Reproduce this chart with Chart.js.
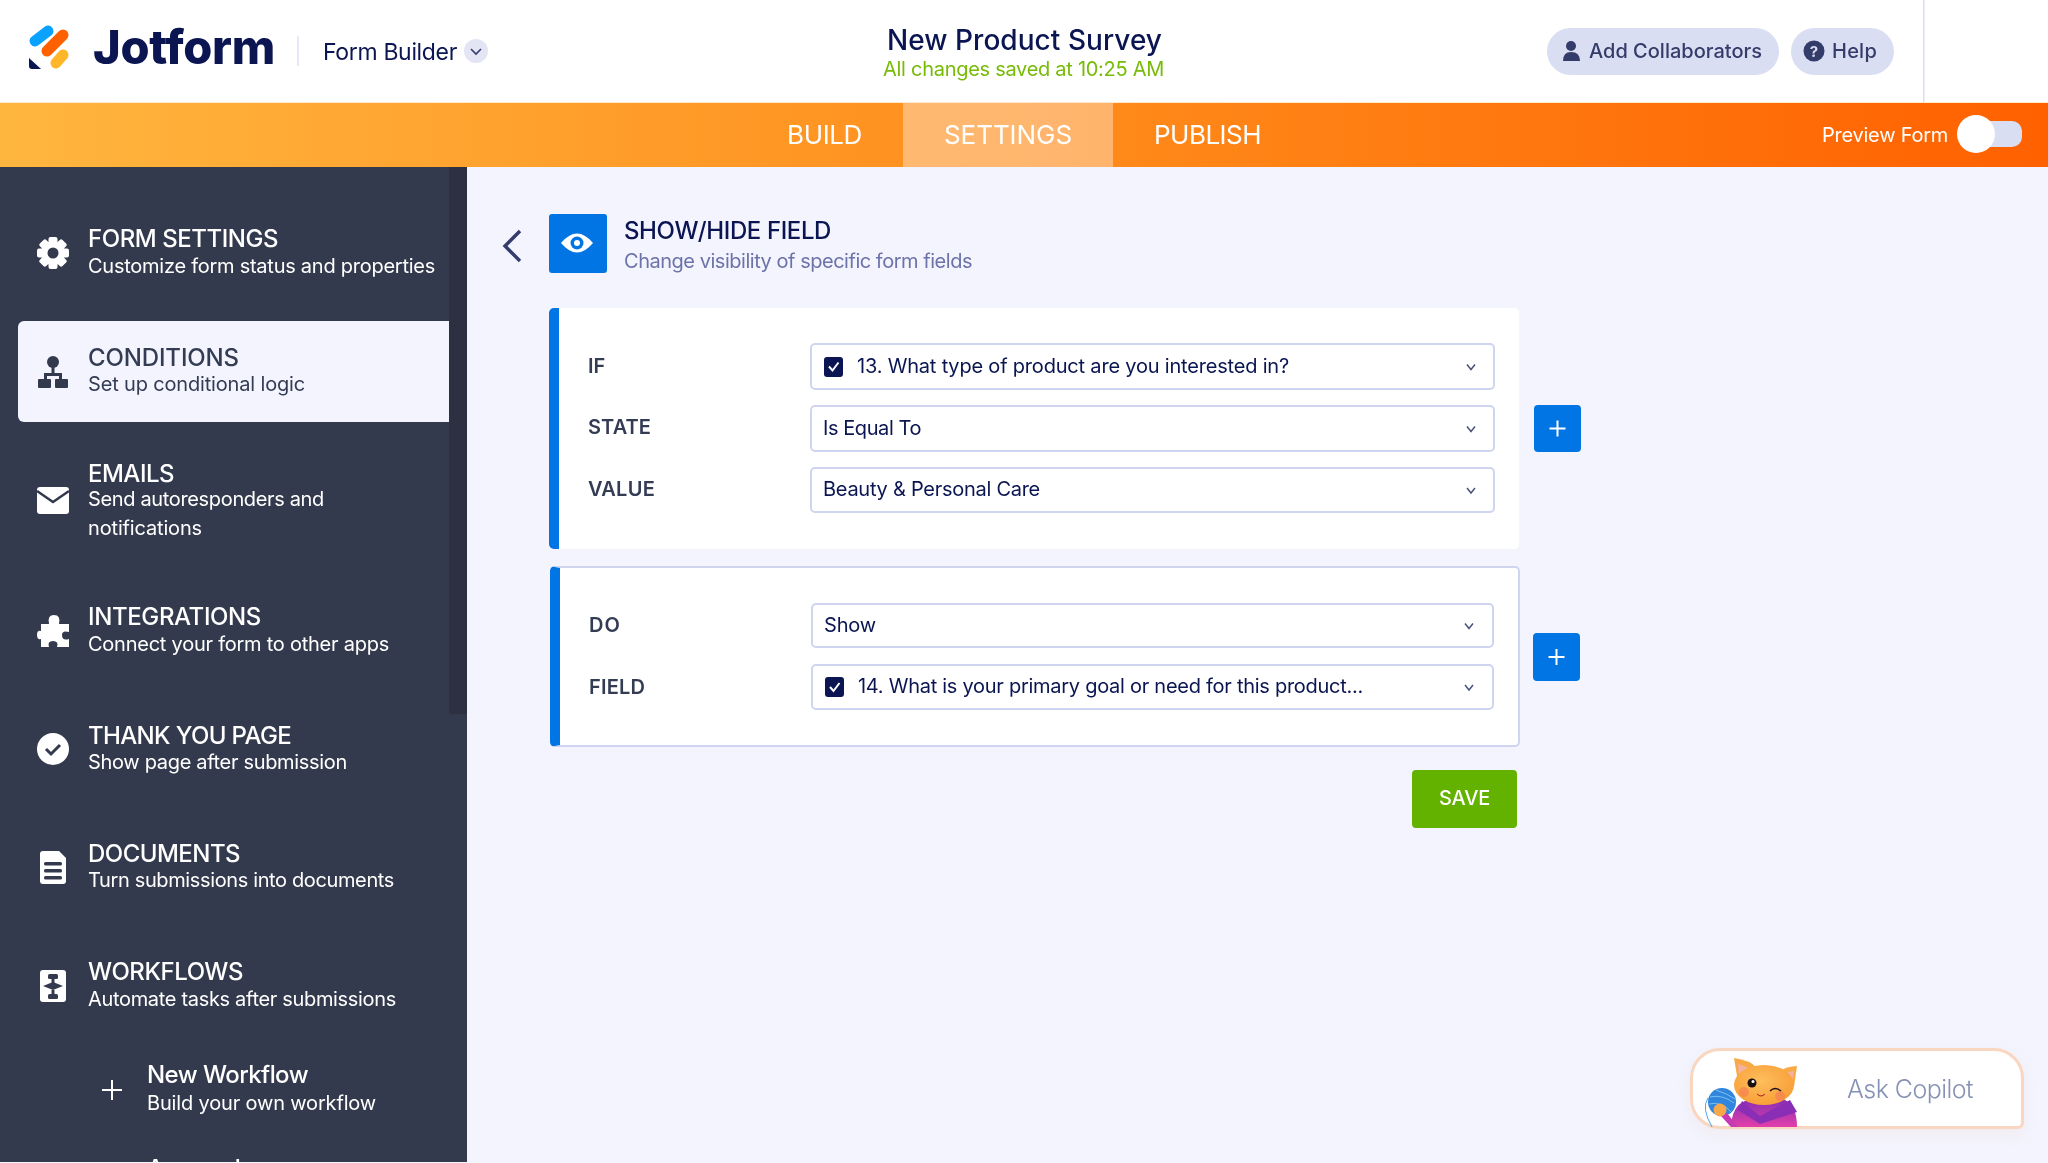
<!DOCTYPE html>
<html><head><meta charset="utf-8">
<script src="https://cdn.jsdelivr.net/npm/chart.js@4/dist/chart.umd.min.js"></script>
<style>
html,body{margin:0;padding:0;width:2048px;height:1163px;overflow:hidden;background:#f3f4fe}
#c{position:absolute;left:0;top:0;width:2048px;height:1163px}
#ic{position:absolute;left:0;top:0}
.t{position:absolute;white-space:nowrap;line-height:1;font-family:Inter,"Noto Sans",sans-serif}
.box{position:absolute;box-sizing:border-box}
</style></head><body>
<canvas id="c" width="2048" height="1163"></canvas>
<div id="boxes"></div>
<svg id="ic" width="2048" height="1163" viewBox="0 0 2048 1163" xmlns="http://www.w3.org/2000/svg">
 <defs>
  <linearGradient id="hood" x1="0" y1="0" x2="0" y2="1"><stop offset="0" stop-color="#8a2fb5"/><stop offset="1" stop-color="#e23fa8"/></linearGradient>
  <radialGradient id="fur" cx=".45" cy=".4" r=".7"><stop offset="0" stop-color="#fdbe5c"/><stop offset="1" stop-color="#f79a32"/></radialGradient>
 </defs>
 <!-- logo -->
 <g stroke-linecap="round" fill="none">
  <line x1="35" y1="41" x2="48" y2="31" stroke="#0aa2ff" stroke-width="11"/>
  <line x1="47" y1="51" x2="63" y2="35" stroke="#ff6100" stroke-width="11"/>
  <line x1="56" y1="63" x2="63" y2="55" stroke="#ffb629" stroke-width="11"/>
 </g>
 <path d="M29 58 L41 69 L32 69 Q29 69 29 66Z" fill="#0a1551"/>
 <!-- form builder chevron -->
 <ellipse cx="476" cy="51" rx="12" ry="12" fill="#e3e5f5"/>
 <path d="M471 49 L476 54 L481 49" fill="none" stroke="#343c6a" stroke-width="1.6"/>
 <!-- top buttons -->
 <circle cx="1571" cy="46" r="5" fill="#343c6a"/><path d="M1563 61 Q1563 52 1571 52 Q1580 52 1580 61Z" fill="#343c6a"/>
 <circle cx="1814" cy="51" r="10.5" fill="#343c6a"/>
 <text x="1814" y="57" text-anchor="middle" font-family="Inter" font-size="15" font-weight="700" fill="#dadef3">?</text>
 <!-- toggle -->
 <rect x="1960" y="121" width="62" height="26" rx="10" fill="#dadef3"/>
 <circle cx="1976" cy="134" r="19" fill="#fff"/>
 <!-- gear -->
 <g fill="#fff" transform="translate(53 253)">
  <circle r="12"/>
  <g><rect x="-4.5" y="-16" width="9" height="32" rx="2"/><rect x="-4.5" y="-16" width="9" height="32" rx="2" transform="rotate(45)"/><rect x="-4.5" y="-16" width="9" height="32" rx="2" transform="rotate(90)"/><rect x="-4.5" y="-16" width="9" height="32" rx="2" transform="rotate(135)"/></g>
  <circle r="5.5" fill="#343a4d"/>
 </g>
 <!-- conditions -->
 <g fill="#343a4d">
  <circle cx="53" cy="362" r="6"/><rect x="51.5" y="365" width="3" height="10"/>
  <rect x="44" y="373" width="18" height="3"/><rect x="44" y="373" width="3" height="7"/><rect x="59" y="373" width="3" height="7"/>
  <rect x="38" y="379" width="13" height="9" rx="1"/><rect x="55" y="379" width="13" height="9" rx="1"/>
 </g>
 <!-- envelope -->
 <rect x="37" y="487" width="32" height="27" rx="3" fill="#fff"/>
 <path d="M37 491 L53 502 L69 491" fill="none" stroke="#343a4d" stroke-width="2.5"/>
 <!-- puzzle -->
 <path d="M49 624 Q47 615 54 615 Q61 615 59 624 L69 624 L69 632 Q62 630 62 635 Q62 641 69 639 L69 647 L57 647 Q59 641 53 641 Q47 641 49 647 L41 647 L41 639 Q37 640 37 635 Q37 630 41 631 L41 624Z" fill="#fff"/>
 <!-- check -->
 <circle cx="53" cy="749" r="16" fill="#fff"/>
 <path d="M46 749 L51 754 L60 745" fill="none" stroke="#343a4d" stroke-width="3"/>
 <!-- doc -->
 <path d="M43 851 L59 851 L66 858 L66 881 Q66 884 63 884 L43 884 Q40 884 40 881 L40 854 Q40 851 43 851Z" fill="#fff"/>
 <g fill="#343a4d"><rect x="44" y="862" width="18" height="3.5" rx="1.5"/><rect x="44" y="869" width="18" height="3.5" rx="1.5"/><rect x="44" y="876" width="18" height="3.5" rx="1.5"/></g>
 <!-- workflow -->
 <rect x="40" y="970" width="26" height="32" rx="3" fill="#fff"/>
 <g fill="#343a4d"><rect x="48" y="974" width="10" height="5" rx="1.5"/><rect x="51.5" y="979" width="3" height="4"/><path d="M53 982 L63 986 L53 990 L43 986Z"/><rect x="51.5" y="990" width="3" height="4"/><rect x="48" y="994" width="10" height="5" rx="1.5"/></g>
 <!-- new workflow plus -->
 <path d="M112 1080 V1100 M102 1090 H122" stroke="#fff" stroke-width="2"/>
 <!-- back chevron, eye -->
 <path d="M520 231 L505 246 L520 261" fill="none" stroke="#343c6a" stroke-width="3.4"/>
 <rect x="549" y="214" width="58" height="59" rx="3" fill="#0075e3"/>
 <path d="M561 243 Q577 224 593 243 Q577 262 561 243Z" fill="#fff"/>
 <circle cx="577" cy="243" r="6.5" fill="#0075e3"/><circle cx="577" cy="243" r="3" fill="#fff"/>
</svg>
<svg id="cat" width="2048" height="1163" viewBox="0 0 2048 1163" xmlns="http://www.w3.org/2000/svg" style="position:absolute;left:0;top:0;z-index:5">
 <path d="M1731 1127 Q1732 1106 1745 1101 L1785 1100 Q1797 1106 1797 1127Z" fill="url(#hood)"/>
 <path d="M1742 1101 L1760 1116 L1790 1100 L1797 1112 L1760 1124 L1738 1110Z" fill="#8a2fb5"/>
 <path d="M1734 1058 Q1750 1060 1757 1068 L1738 1082Z" fill="#f9a945"/>
 <path d="M1738 1064 L1739 1076 L1749 1068Z" fill="#f3b1a0"/>
 <path d="M1797 1066 Q1787 1066 1778 1072 L1794 1087Z" fill="#f9a945"/>
 <path d="M1794 1071 L1784 1073 L1792 1081Z" fill="#f3b1a0"/>
 <ellipse cx="1764" cy="1085" rx="30" ry="20" fill="url(#fur)"/>
 <circle cx="1744" cy="1092" r="5" fill="#f5755a" opacity=".55"/><circle cx="1780" cy="1096" r="5" fill="#f5755a" opacity=".55"/>
 <circle cx="1752" cy="1083" r="4.5" fill="#1a1014"/><circle cx="1753" cy="1081.5" r="1.5" fill="#fff"/>
 <path d="M1770 1091 Q1775 1086 1781 1091" fill="none" stroke="#1a1014" stroke-width="1.5"/>
 <path d="M1757 1094 Q1761 1098 1765 1094" fill="none" stroke="#a22" stroke-width="1"/>
 <circle cx="1722" cy="1102" r="14" fill="#2f86dc"/>
 <path d="M1710 1097 Q1722 1094 1734 1103 M1709 1104 Q1722 1101 1731 1112 M1716 1090 Q1728 1094 1735 1099" fill="none" stroke="#7cc0f5" stroke-width="1"/>
 <path d="M1727 1113 L1738 1127 L1731 1127 L1721 1116Z" fill="#c83ab5"/>
 <circle cx="1720" cy="1110" r="6.5" fill="#f7a94a"/>
 <path d="M1708 1098 Q1701 1108 1712 1127" fill="none" stroke="#4ba3ea" stroke-width="1"/>
</svg>
<div id="texts"></div>
<div class="box" style="left:0;top:1162px;width:2048px;height:1px;background:#f3f4fe;z-index:6"></div>
<script>
// The reference is a settings screen, not a plot: it has no numeric series. These lists hold its text.
const navTitles = ["FORM SETTINGS","CONDITIONS","EMAILS","INTEGRATIONS","THANK YOU PAGE","DOCUMENTS","WORKFLOWS"];
const navSubs = ["Customize form status and properties","Set up conditional logic","Send autoresponders and","Connect your form to other apps","Show page after submission","Turn submissions into documents","Automate tasks after submissions"];
const tabLabels = ["BUILD","SETTINGS","PUBLISH"];
const ifLabels = ["IF","STATE","VALUE"];
const ifValues = ["13. What type of product are you interested in?","Is Equal To","Beauty & Personal Care"];
const doLabels = ["DO","FIELD"];
const doValues = ["Show","14. What is your primary goal or need for this product..."];

// Chart.js paints the page shell on an empty chart.
const shell = {
  id:'shell',
  beforeDraw(ch){
    const g = ch.ctx;
    g.save();
    g.fillStyle='#fff'; g.fillRect(0,0,2048,102);
    g.fillStyle='#dadef3'; g.fillRect(1923,0,1.5,102);
    g.fillStyle='#e6e8f5'; g.fillRect(297,36,2,30);
    const o=g.createLinearGradient(0,0,2048,0);
    o.addColorStop(0,'#ffb63f'); o.addColorStop(.5,'#ff8d1c'); o.addColorStop(1,'#ff6100');
    g.fillStyle=o; g.fillRect(0,103,2048,64);
    g.fillStyle='#ffe9cf'; g.fillRect(0,102,2048,1);
    g.fillStyle='rgba(255,255,255,.36)'; g.fillRect(903,103,210,64);
    g.fillStyle='#f3f4fe'; g.fillRect(0,167,2048,996);
    g.fillStyle='#343a4d'; g.fillRect(0,167,467,996);
    g.fillStyle='#2c3040'; g.fillRect(449,167,18,547);
    g.fillStyle='#f3f4fe'; g.beginPath(); g.roundRect(18,321,431,101,[6,0,0,6]); g.fill();
    g.restore();
  }
};
new Chart(document.getElementById('c'),{
  type:'bar',
  data:{labels:[],datasets:[]},
  plugins:[shell],
  options:{responsive:false,animation:false,devicePixelRatio:1,
    plugins:{legend:{display:false},tooltip:{enabled:false}},
    scales:{x:{display:false},y:{display:false}}}
});

const tx=document.getElementById('texts'), bx=document.getElementById('boxes');
function T(s,x,cy,size,weight,color,w){
  const d=document.createElement('div'); d.className='t'; d.textContent=s;
  d.style.cssText=`left:${x}px;top:${cy-size/2}px;font-size:${size}px;font-weight:${weight};color:${color}`;
  tx.appendChild(d);
  if(w){const n=d.getBoundingClientRect().width; d.style.letterSpacing=((w-n)/s.length)+'px';}
}
function B(x,y,w,h,css){
  const d=document.createElement('div'); d.className='box';
  d.style.cssText=`left:${x}px;top:${y}px;width:${w}px;height:${h}px;${css}`;
  bx.appendChild(d);
}
const navy='#0a1551', slate='#343c54', line='#d0d5ef';

// header
T("Jotform",93,46,47,800,navy,182);
T("Form Builder",323,52,23,400,navy,134);
T("New Product Survey",887,40,28,500,navy,275);
T("All changes saved at 10:25 AM",883,69,20,400,'#78bb07',281);
B(1547,28,232,47,'background:#dadef3;border-radius:24px');
B(1791,28,103,47,'background:#dadef3;border-radius:24px');
T("Add Collaborators",1589,51,20,500,'#343c6a',173);
T("Help",1832,51,20,500,'#343c6a',45);
// tabs
[[787,75],[944,128],[1154,107]].forEach((p,i)=>T(tabLabels[i],p[0],135,26,400,'#fff',p[1]));
T("Preview Form",1822,135,20,400,'#fff',126);

// sidebar
const navY=[[239,266],[358,384],[474,499],[617,644],[736,762],[854,880],[972,999]];
const navW=[[190,347],[151,217],[86,236],[173,301],[203,259],[152,306],[155,308]];
navTitles.forEach((s,i)=>{
  const c=i===1?slate:'#fff';
  T(s,88,navY[i][0],24,500,c,navW[i][0]);
  T(navSubs[i],88,navY[i][1],20,400,c,navW[i][1]);
});
T("notifications",88,528,20,400,'#fff',114);
T("New Workflow",147,1075,24,500,'#fff',161);
T("Build your own workflow",147,1103,20,400,'#fff',229);
T("Approvals",147,1169,24,500,'#fff',104);

// main header
T("SHOW/HIDE FIELD",624,231,24,500,navy,207);
T("Change visibility of specific form fields",624,261,20,400,'#6c73a8',348);

function chev(x,y){
  const s=document.createElementNS('http://www.w3.org/2000/svg','path');
  s.setAttribute('d',`M${x-4} ${y-2} L${x} ${y+3} L${x+4} ${y-2}`);
  s.setAttribute('fill','none'); s.setAttribute('stroke','#4a527c'); s.setAttribute('stroke-width','1.5');
  document.getElementById('ic').appendChild(s);
}
function tick(x,y){
  const s=document.createElementNS('http://www.w3.org/2000/svg','path');
  s.setAttribute('d',`M${x+5} ${y+10} L${x+8.5} ${y+14} L${x+14.5} ${y+6}`);
  s.setAttribute('fill','none'); s.setAttribute('stroke','#fff'); s.setAttribute('stroke-width','2');
  document.getElementById('ic').appendChild(s);
}
function plus(x,y,w,h){
  B(x,y,w,h,'background:#0075e3;border-radius:4px');
  const s=document.createElementNS('http://www.w3.org/2000/svg','path');
  const cx=x+w/2, cy=y+h/2;
  s.setAttribute('d',`M${cx} ${cy-8} V${cy+8} M${cx-8} ${cy} H${cx+8}`);
  s.setAttribute('stroke','#fff'); s.setAttribute('stroke-width','2');
  document.getElementById('ic').appendChild(s);
}
function select(x,y,w,h,s,checked,tw,cx){
  B(x,y,w,h,`background:#fff;border:2px solid ${line};border-radius:5px`);
  const cy=y+h/2;
  if(checked){
    B(x+14,cy-10,19,20,`background:${navy};border-radius:3px`);
    tick(x+14,cy-10);
    T(s,x+47,cy-1,20,400,navy,tw);
  } else T(s,x+13,cy-1,20,400,navy,tw);
  chev(cx,cy);
}
// IF card
B(549,308,970,241,'background:#fff;border-left:10px solid #0075e3;border-radius:5px');
[[366],[427],[489]].forEach((p,i)=>T(ifLabels[i],588,p[0],20,600,slate,[17,63,67][i]));
select(810,343,685,47,ifValues[0],true,432,1471);
select(810,405,685,47,ifValues[1],false,98,1471);
select(810,467,685,46,ifValues[2],false,217,1471);
plus(1534,405,47,47);
// DO card
B(550,566,970,181,`background:#fff;border:2px solid ${line};border-left:10px solid #0075e3;border-radius:5px`);
T(doLabels[0],589,625,20,600,slate,32);
T(doLabels[1],589,687,20,600,slate,56);
select(811,603,683,45,doValues[0],false,52,1469);
select(811,664,683,46,doValues[1],true,505,1469);
plus(1533,633,47,48);
// save
B(1412,770,105,58,'background:#64b200;border-radius:4px');
T("SAVE",1439,798,20,500,'#fff',51);
// copilot
B(1690,1048,334,81,'background:#fff;border:3px solid #f9d6bf;border-radius:30px 30px 6px 30px;box-shadow:0 6px 14px rgba(240,200,180,.18)');
T("Ask Copilot",1847,1089,25,300,'#8692b5',126);
</script>
</body></html>
